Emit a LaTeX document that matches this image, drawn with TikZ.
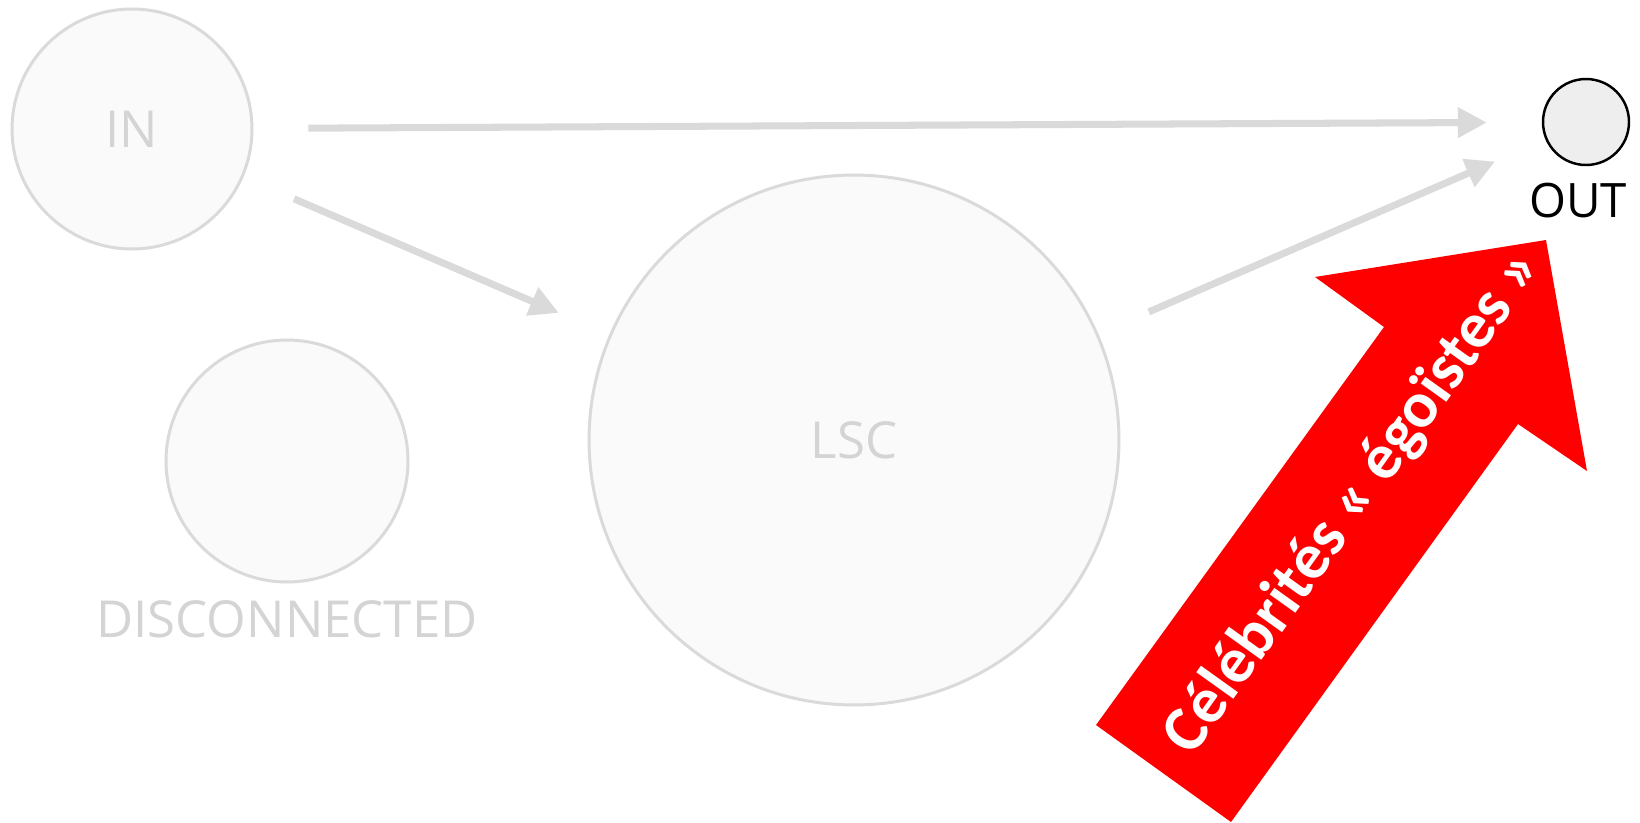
\documentclass[tikz,border=0pt]{standalone}
\usepackage{fontspec}
\setmainfont{Open Sans}
\newfontfamily\calfont{Carlito}
\usetikzlibrary{arrows.meta}
\definecolor{lsline}{HTML}{DADADA}
\definecolor{lsfill}{HTML}{FAFAFA}
\definecolor{lstext}{HTML}{D4D4D4}
\definecolor{outfill}{HTML}{EEEEEE}
\definecolor{celred}{HTML}{FF0000}

\begin{document}
\begin{tikzpicture}[x=0.02cm, y=-0.02cm,
        comp/.style={circle, draw=lsline, fill=lsfill, line width=1.7pt, text=lstext, inner sep=0pt, font=\fontsize{29}{34}\selectfont},
        lbl/.style={text=lstext, inner sep=0pt, font=\fontsize{29}{34}\selectfont},
        conn/.style={draw=lsline, line width=4pt, -{Triangle[length=0.58cm, width=0.58cm]}, shorten <=1.1cm, shorten >=1.1cm}]
      \fill[white] (0,0) rectangle (1640,822);
      \useasboundingbox (0,0) rectangle (1640,822);
      \node[comp, minimum size=4.8cm] (in) at (132,129) {IN};
      \node[comp, minimum size=4.84cm] (disc) at (287,461) {};
      \node[lbl] (disclbl) at (287,619) {DISCONNECTED};
      \node[comp, minimum size=10.6cm] (lsc) at (854,440) {LSC};
      \node[circle, draw=black, fill=outfill, line width=1.4pt, minimum size=1.72cm, inner sep=0pt] (out) at (1586,122) {};
      \node[inner sep=0pt, font=\fontsize{27}{32}\selectfont] (outlbl) at (1578,201) {OUT};
      \draw[conn] (in) -- (out);
      \draw[conn] (in) -- (lsc);
      \draw[conn] (lsc) -- (out);
      % big red arrow
      \fill[celred] (1546,240) -- (1315,277) -- (1384,327) -- (1096,725) -- (1231,822) -- (1518,424) -- (1587,471) -- cycle;
      \node[text=white, rotate=54.4, font=\calfont\fontsize{37}{43}\selectfont\bfseries] (celeb) at (1354,502) {Célébrités « égoïstes »};
    \end{tikzpicture}
\end{document}
